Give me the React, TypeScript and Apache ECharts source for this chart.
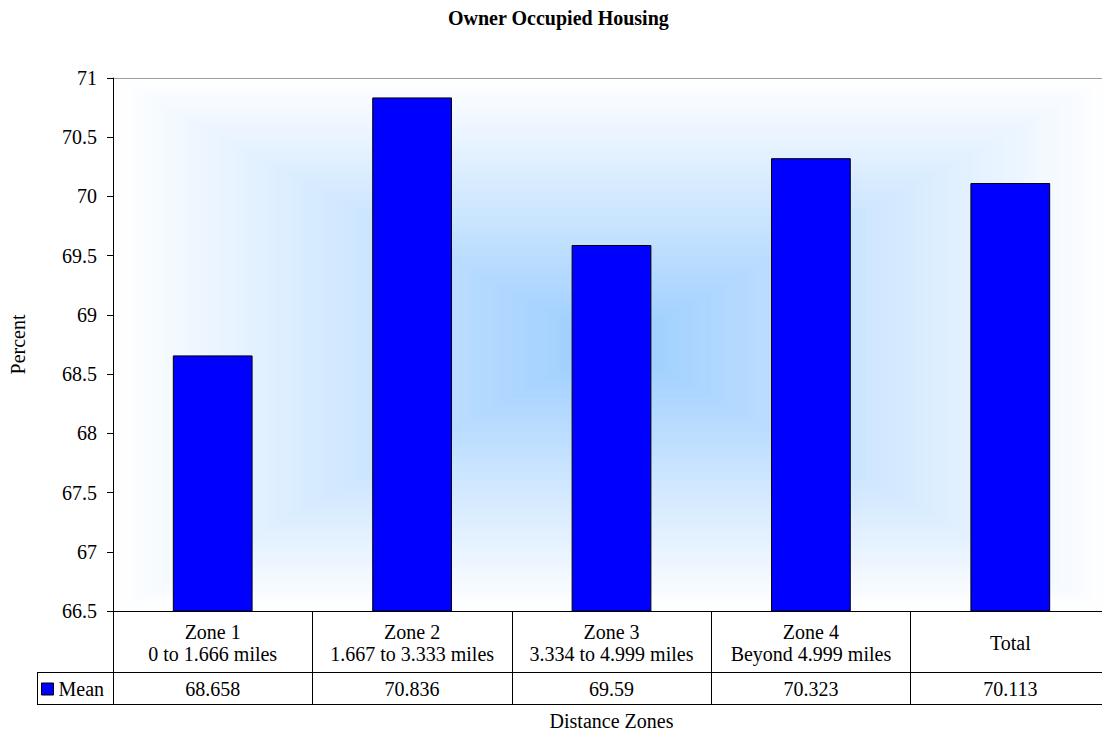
import React, { useEffect, useRef } from "react";
import * as echarts from "echarts";

const categories = [
  "Zone 1\n0 to 1.666 miles",
  "Zone 2\n1.667 to 3.333 miles",
  "Zone 3\n3.334 to 4.999 miles",
  "Zone 4\nBeyond 4.999 miles",
  "Total",
];
const meanValues = [68.658, 70.836, 69.59, 70.323, 70.113];
const seriesName = "Mean";
const yMin = 66.5;
const yMax = 71;
const yInterval = 0.5;

const FONT = "'Liberation Serif', 'Times New Roman', serif";

export default function App() {
  const ref = useRef<HTMLDivElement>(null);
  useEffect(() => {
    if (!ref.current) return;
    const chart = echarts.init(ref.current, undefined, { renderer: "svg" });
    const center = [153, 204, 255];
    chart.setOption({
      animation: false,
      backgroundColor: "#ffffff",
      textStyle: { fontFamily: FONT, color: "#000" },
      title: {
        text: "Owner Occupied Housing",
        left: 448,
        top: 8,
        padding: 0,
        textStyle: { fontFamily: FONT, fontSize: 20, fontWeight: "bold", color: "#000" },
      },
      legend: {
        data: [seriesName],
        left: 41,
        top: 679,
        padding: 0,
        itemWidth: 12,
        itemHeight: 12,
        icon: "rect",
        itemStyle: { borderColor: "#000", borderWidth: 1 },
        textStyle: { fontFamily: FONT, fontSize: 20, color: "#000" },
      },
      grid: {
        left: 113,
        top: 78,
        right: -8,
        bottom: 120,
        show: false,
        containLabel: false,
        outerBoundsMode: "none",
      },
      xAxis: [
        {
          type: "category",
          data: categories,
          z: 5,
          name: "Distance Zones",
          nameLocation: "middle",
          nameGap: 100,
          nameTextStyle: { fontFamily: FONT, fontSize: 20, color: "#000", verticalAlign: "top" },
          axisLine: { show: true, lineStyle: { color: "#000", width: 1 } },
          axisTick: { show: true, length: 93, interval: 0, alignWithLabel: false, lineStyle: { color: "#000" } },
          axisLabel: {
            interval: 0,
            margin: 32,
            verticalAlign: "middle",
            lineHeight: 22,
            fontFamily: FONT,
            fontSize: 20,
            color: "#000",
            align: "center",
          },
        },
        {
          type: "category",
          data: categories,
          position: "bottom",
          offset: 61,
          z: 5,
          axisLine: { show: false },
          axisTick: { show: false },
          axisLabel: {
            interval: 0,
            margin: 17,
            verticalAlign: "middle",
            fontFamily: FONT,
            fontSize: 20,
            color: "#000",
            formatter: (_v: string, i: number) => String(meanValues[i]),
          },
        },
      ],
      yAxis: {
        type: "value",
        min: yMin,
        max: yMax,
        interval: yInterval,
        z: 5,
        name: "Percent",
        nameLocation: "middle",
        nameGap: 85,
        nameTextStyle: { fontFamily: FONT, fontSize: 20, color: "#000" },
        splitLine: { show: false },
        axisLine: { show: true, lineStyle: { color: "#000", width: 1 } },
        axisTick: { show: true, length: 6, lineStyle: { color: "#000" } },
        axisLabel: { margin: 16, fontFamily: FONT, fontSize: 20, color: "#000" },
      },
      graphic: [
        { type: "line", z: 10, shape: { x1: 37, y1: 672.5, x2: 1110, y2: 672.5 }, style: { stroke: "#000", lineWidth: 1 } },
        { type: "line", z: 10, shape: { x1: 37, y1: 704.5, x2: 1110, y2: 704.5 }, style: { stroke: "#000", lineWidth: 1 } },
        { type: "line", z: 10, shape: { x1: 37.5, y1: 672, x2: 37.5, y2: 705 }, style: { stroke: "#000", lineWidth: 1 } },
      ],
      series: [
        {
          type: "custom",
          z: 1,
          silent: true,
          clip: false,
          data: [0],
          renderItem: (params: any) => {
            const cs = params.coordSys;
            const N = 80;
            const children: any[] = [];
            for (let i = 0; i < N; i++) {
              const t = 1 - i / N;
              const w = cs.width * t;
              const h = cs.height * t;
              const k = t;
              const r = Math.round(center[0] + (255 - center[0]) * k);
              const g = Math.round(center[1] + (255 - center[1]) * k);
              const b = Math.round(center[2] + (255 - center[2]) * k);
              children.push({
                type: "rect",
                shape: { x: cs.x + (cs.width - w) / 2, y: cs.y + (cs.height - h) / 2, width: w, height: h },
                style: { fill: `rgb(${r},${g},${b})` },
              });
            }
            children.push({
              type: "line",
              shape: { x1: cs.x, y1: cs.y + 0.5, x2: cs.x + cs.width, y2: cs.y + 0.5 },
              style: { stroke: "#a0a0a0", lineWidth: 1 },
            });
            return { type: "group", children };
          },
        },
        {
          name: seriesName,
          type: "bar",
          z: 2,
          data: meanValues,
          barWidth: "40%",
          itemStyle: { color: "#0000ff", borderColor: "#000", borderWidth: 1 },
        },
      ],
    });
    return () => chart.dispose();
  }, []);
  return (
    <div
      ref={ref}
      style={{ position: "absolute", left: 0, top: 0, width: 1102, height: 731, overflow: "hidden" }}
    />
  );
}
